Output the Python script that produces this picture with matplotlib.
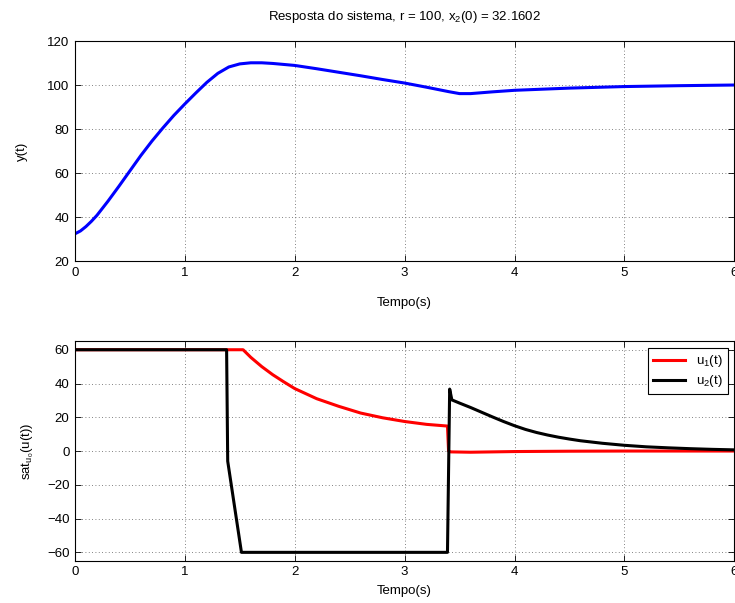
import numpy as np
import matplotlib
matplotlib.use('Agg')
import matplotlib.pyplot as plt

plt.rcParams['font.family'] = ['Liberation Sans', 'DejaVu Sans']
plt.rcParams['mathtext.fontset'] = 'custom'
plt.rcParams['mathtext.rm'] = 'Liberation Sans'
plt.rcParams['mathtext.it'] = 'Liberation Sans'
plt.rcParams['mathtext.default'] = 'regular'
plt.rcParams['font.size'] = 9.5

# saida y(t)
t_y = [0, 0.05, 0.1, 0.15, 0.2, 0.3, 0.4, 0.5, 0.6, 0.7, 0.8, 0.9, 1.0, 1.1, 1.2,
       1.3, 1.4, 1.5, 1.6, 1.7, 1.8, 2.0, 2.2, 2.4, 2.6, 2.8, 3.0, 3.2, 3.4,
       3.5, 3.6, 3.8, 4.0, 4.5, 5.0, 5.5, 6.0]
y = [32.4, 33.7, 35.7, 38.1, 40.8, 47.2, 54.0, 61.0, 68.0, 74.5, 80.5, 86.2, 91.4,
     96.4, 101.2, 105.3, 108.2, 109.6, 110.1, 110.1, 109.8, 108.9, 107.4, 105.8,
     104.2, 102.5, 100.9, 99.0, 97.0, 96.1, 96.1, 96.9, 97.6, 98.6, 99.3, 99.7, 100.0]

# sinais de controle saturados
t_u1 = [0, 1.53, 1.6, 1.7, 1.8, 1.9, 2.0, 2.2, 2.4, 2.6, 2.8, 3.0, 3.2, 3.39,
        3.40, 3.42, 3.6, 3.8, 4.0, 4.5, 5.0, 6.0]
u1 = [60, 60, 55.5, 50, 45.2, 41, 37, 31, 26.5, 22.5, 19.7, 17.5, 15.8, 14.8,
      0, -0.5, -0.7, -0.5, -0.3, -0.1, 0, 0]

t_u2 = [0, 1.38, 1.39, 1.515, 3.39, 3.41, 3.43, 3.5, 3.6, 3.7, 3.8, 3.9, 4.0,
        4.1, 4.2, 4.3, 4.4, 4.5, 4.6, 4.8, 5.0, 5.2, 5.4, 5.6, 5.8, 6.0]
u2 = [60, 60, -6, -60, -60, 36.7, 30.3, 28.4, 25.8, 23.0, 20.2, 17.5, 15.0,
      12.8, 11.0, 9.5, 8.2, 7.1, 6.1, 4.6, 3.4, 2.5, 1.9, 1.4, 1.0, 0.7]

fig = plt.figure(figsize=(7.35, 6.03), dpi=100)
ax1 = fig.add_axes([0.102, 0.567, 0.897, 0.365])
ax2 = fig.add_axes([0.102, 0.07, 0.897, 0.364])

def matlab_style(ax):
    ax.tick_params(direction='in', top=True, right=True, length=4, width=0.6, pad=4)
    ax.grid(True, linestyle=(0, (1, 3)), color='0.35', linewidth=0.6)
    for s in ax.spines.values():
        s.set_linewidth(0.8)

ax1.plot(t_y, y, color='blue', lw=2.2)
ax1.set_xlim(0, 6)
ax1.set_ylim(20, 120)
ax1.set_xticks(range(7))
ax1.set_yticks(range(20, 121, 20))
ax1.set_xlabel('Tempo(s)', labelpad=13)
ax1.set_ylabel('y(t)', labelpad=14)
ax1.set_title('Resposta do sistema, r = 100, x$_2$(0) = 32.1602', fontsize=9.5, pad=15)
matlab_style(ax1)

ax2.plot(t_u1, u1, color='red', lw=2.2, label='u$_1$(t)')
ax2.plot(t_u2, u2, color='black', lw=2.2, label='u$_2$(t)')
ax2.set_xlim(0, 6)
ax2.set_ylim(-65, 65)
ax2.set_xticks(range(7))
ax2.set_yticks(range(-60, 61, 20))
ax2.set_xlabel('Tempo(s)', labelpad=5)
ax2.set_ylabel('sat$_{u_0}$(u(t))', labelpad=8)
matlab_style(ax2)
leg = ax2.legend(loc='upper right', fancybox=False, edgecolor='black', framealpha=1,
                 handlelength=2.4, borderaxespad=0.5, labelspacing=0.3)
leg.get_frame().set_linewidth(0.8)

fig.savefig('out.png', dpi=100)
